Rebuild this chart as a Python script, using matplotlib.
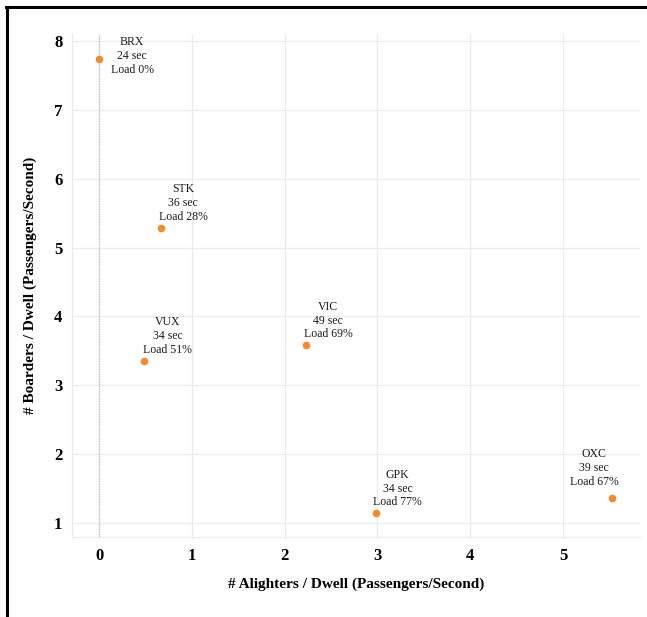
import matplotlib.pyplot as plt
from matplotlib.lines import Line2D

stations = ['BRX', 'STK', 'VUX', 'VIC', 'GPK', 'OXC']
alighters_rate = [0.0, 0.67, 0.49, 2.23, 2.98, 5.53]
boarders_rate = [7.74, 5.28, 3.35, 3.59, 1.15, 1.36]
dwell_sec = [24, 36, 34, 49, 34, 39]
load_pct = [0, 28, 51, 69, 77, 67]

# label offsets in pixels (repel-like placement)
label_dx = [33, 22, 23, 22, 22, -18]
label_dy = [3, 25, 25, 24, 24, 30]

plt.rcParams['font.family'] = ['Liberation Serif', 'DejaVu Serif']

fig = plt.figure(figsize=(6.47, 6.17), dpi=100)
ax = fig.add_axes([72/647, 1-537/617, 568/647, 503/617])

grid_col = '#ebebeb'
ax.set_xlim(-0.291, 5.83)
ax.set_ylim(0.797, 8.10)
ax.set_xticks([0, 1, 2, 3, 4, 5])
ax.set_yticks([1, 2, 3, 4, 5, 6, 7, 8])
ax.grid(True, color=grid_col, linewidth=0.9)
ax.set_axisbelow(True)
for s in ['top', 'right']:
    ax.spines[s].set_visible(False)
for s in ['left', 'bottom']:
    ax.spines[s].set_color(grid_col)
    ax.spines[s].set_linewidth(0.9)
ax.tick_params(length=0, labelsize=12, pad=8)
ax.tick_params(axis='y', pad=7)
for lab in ax.get_xticklabels() + ax.get_yticklabels():
    lab.set_fontweight('bold')

ax.axvline(0, color='#bdbdbd', linestyle=(0, (1, 1)), linewidth=0.9, zorder=1)

ax.scatter(alighters_rate, boarders_rate, s=30, color='#f58a2a', zorder=3, linewidths=0)

for i, st in enumerate(stations):
    txt = '%s\n%d sec\nLoad %d%%' % (st, dwell_sec[i], load_pct[i])
    ax.annotate(txt, (alighters_rate[i], boarders_rate[i]),
                xytext=(label_dx[i], label_dy[i]), textcoords='offset pixels',
                ha='center', va='center', fontsize=8.5, linespacing=1.2,
                color='#1a1a1a')

ax.set_xlabel('# Alighters / Dwell (Passengers/Second)', fontsize=11,
              fontweight='bold', labelpad=10)
ax.set_ylabel('# Boarders / Dwell (Passengers/Second)', fontsize=11,
              fontweight='bold', labelpad=12)

# cropped frame of the screenshot
fig.add_artist(Line2D([6/647, 1], [1-7/617, 1-7/617], color='black', linewidth=2.2))
fig.add_artist(Line2D([7/647, 7/647], [0, 1-7/617], color='black', linewidth=2.2))

plt.savefig('out.png', dpi=100)
plt.close(fig)
